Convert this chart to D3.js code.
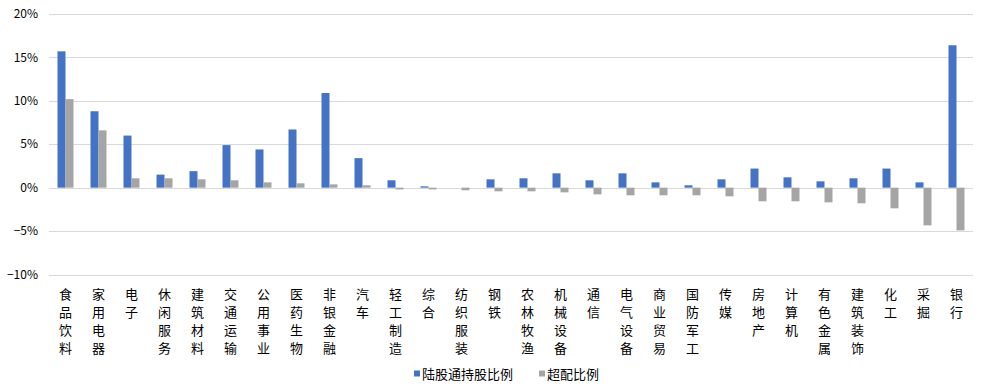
<!DOCTYPE html>
<html>
<head>
<meta charset="utf-8">
<script src="https://cdn.jsdelivr.net/npm/d3@7.9.0/dist/d3.min.js"></script>
<style>
  body { margin: 0; background: #fff; }
  svg { font-family: "Noto Sans CJK SC", "DejaVu Sans", sans-serif; }
</style>
</head>
<body>
<svg width="1003" height="392"></svg>
<script>
const categories = ['食品饮料', '家用电器', '电子', '休闲服务', '建筑材料', '交通运输', '公用事业', '医药生物', '非银金融', '汽车',
  '轻工制造', '综合', '纺织服装', '钢铁', '农林牧渔', '机械设备', '通信', '电气设备', '商业贸易', '国防军工',
  '传媒', '房地产', '计算机', '有色金属', '建筑装饰', '化工', '采掘', '银行'];
const holding = [15.7, 8.8, 6.0, 1.5, 1.9, 4.9, 4.4, 6.7, 10.9, 3.4,
  0.85, 0.15, 0.0, 0.96, 1.08, 1.65, 0.85, 1.65, 0.61, 0.27,
  0.96, 2.2, 1.19, 0.73, 1.08, 2.2, 0.61, 16.4];
const overweight = [10.2, 6.6, 1.08, 1.08, 0.96, 0.85, 0.61, 0.5, 0.38, 0.27,
  -0.2, -0.2, -0.3, -0.42, -0.42, -0.54, -0.77, -0.88, -0.88, -0.88,
  -1.0, -1.57, -1.57, -1.69, -1.8, -2.38, -4.34, -4.92];
const seriesNames = ['陆股通持股比例', '超配比例'];
const colors = ['#4472C4', '#A5A5A5'];
const yTicks = [-10, -5, 0, 5, 10, 15, 20];

const svg = d3.select('svg');
const margin = { left: 49, right: 30, top: 14, bottom: 117.5 };
const width = 1003 - margin.left - margin.right;
const height = 392 - margin.top - margin.bottom;

const g = svg.append('g').attr('transform', `translate(${margin.left},${margin.top})`);

const x = d3.scaleBand().domain(categories).range([0, width]);
const y = d3.scaleLinear().domain([-10, 20]).range([height, 0]);

// gridlines
g.selectAll('.grid')
  .data(yTicks)
  .join('line')
  .attr('x1', 0).attr('x2', width)
  .attr('y1', (d) => Math.round(y(d)) + 0.5)
  .attr('y2', (d) => Math.round(y(d)) + 0.5)
  .attr('stroke', '#d9d9d9')
  .attr('stroke-width', 1);

// y labels
g.selectAll('.ylab')
  .data(yTicks)
  .join('text')
  .attr('x', -11)
  .attr('y', (d) => y(d))
  .attr('dy', '0.35em')
  .attr('text-anchor', 'end')
  .attr('font-size', 12)
  .attr('fill', '#000')
  .text((d) => (d < 0 ? '−' + Math.abs(d) : d) + '%');

const barW = 8;
const series = [holding, overweight];
series.forEach((vals, s) => {
  g.selectAll('.bar' + s)
    .data(vals)
    .join('rect')
    .attr('x', (d, i) => x(categories[i]) + x.bandwidth() / 2 - barW + s * barW)
    .attr('width', barW)
    .attr('y', (d) => y(Math.max(0, d)))
    .attr('height', (d) => Math.abs(y(d) - y(0)))
    .attr('fill', colors[s]);
});

// category labels, vertical stacked characters
categories.forEach((c) => {
  const t = g.append('text')
    .attr('text-anchor', 'middle')
    .attr('font-size', 13)
    .attr('fill', '#000');
  Array.from(c).forEach((ch, k) => {
    t.append('tspan')
      .attr('x', x(c) + x.bandwidth() / 2)
      .attr('y', height + 24 + k * 18)
      .text(ch);
  });
});

// legend
const legend = svg.append('g').attr('transform', 'translate(414,374)');
let lx = 0;
seriesNames.forEach((name, s) => {
  legend.append('rect').attr('x', lx).attr('y', -3.5).attr('width', 6).attr('height', 6).attr('fill', colors[s]);
  const t = legend.append('text')
    .attr('x', lx + 8).attr('y', 0).attr('dy', '0.35em')
    .attr('font-size', 13).attr('fill', '#000')
    .text(name);
  lx += 8 + t.node().getComputedTextLength() + 26;
});
</script>
</body>
</html>
